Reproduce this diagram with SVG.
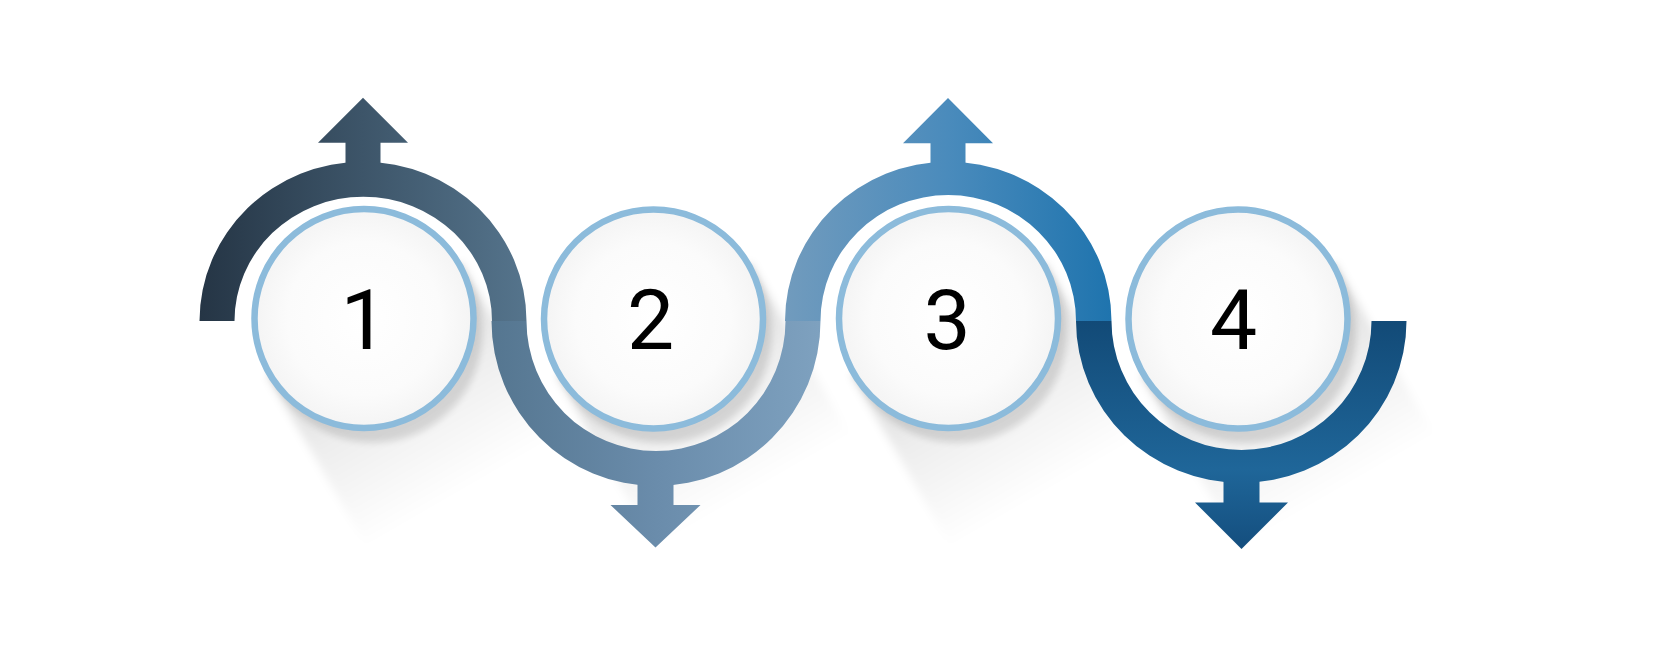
<svg xmlns="http://www.w3.org/2000/svg" width="1680" height="655" viewBox="0 0 1680 655">
  <style>
    .ring { stroke: #8cbbdb; stroke-width: 6.5; fill: url(#discFill); }
    .num { font-family: Roboto, "Liberation Sans", Arial, sans-serif; font-weight: 400; font-size: 84px; fill: #000000; text-anchor: middle; }
    .longshadow { fill: url(#longShadowGrad); filter: url(#soft); }
    .dropshadow { fill: #000; opacity: 0.12; filter: url(#blur5); }
  </style>
  <defs>
    <radialGradient id="discFill" cx="0.5" cy="0.5" r="0.5">
      <stop offset="0" stop-color="#ffffff"/>
      <stop offset="0.7" stop-color="#fbfbfb"/>
      <stop offset="1" stop-color="#f4f4f4"/>
    </radialGradient>
    <linearGradient id="longShadowGrad" gradientUnits="userSpaceOnUse" x1="0" y1="0" x2="100" y2="173">
      <stop offset="0" stop-color="#000" stop-opacity="0.16"/>
      <stop offset="0.45" stop-color="#000" stop-opacity="0.07"/>
      <stop offset="1" stop-color="#000" stop-opacity="0"/>
    </linearGradient>
    <filter id="soft" x="-20%" y="-20%" width="140%" height="140%">
      <feGaussianBlur stdDeviation="4"/>
    </filter>
    <filter id="blur5" x="-30%" y="-30%" width="160%" height="160%">
      <feGaussianBlur stdDeviation="3.5"/>
    </filter>
    <linearGradient id="g1" gradientUnits="userSpaceOnUse" x1="200" y1="0" x2="526" y2="0">
      <stop offset="0" stop-color="#253545"/>
      <stop offset="0.5" stop-color="#3d5569"/>
      <stop offset="1" stop-color="#55748c"/>
    </linearGradient>
    <linearGradient id="g2" gradientUnits="userSpaceOnUse" x1="492" y1="0" x2="820" y2="0">
      <stop offset="0" stop-color="#557690"/>
      <stop offset="0.5" stop-color="#6a8cab"/>
      <stop offset="1" stop-color="#7ea1bf"/>
    </linearGradient>
    <linearGradient id="g3" gradientUnits="userSpaceOnUse" x1="785" y1="0" x2="1111" y2="0">
      <stop offset="0" stop-color="#719bbd"/>
      <stop offset="0.5" stop-color="#4a8bbc"/>
      <stop offset="1" stop-color="#1f74ae"/>
    </linearGradient>
    <linearGradient id="g4" gradientUnits="userSpaceOnUse" x1="0" y1="321" x2="0" y2="549">
      <stop offset="0" stop-color="#124a77"/>
      <stop offset="0.65" stop-color="#1f6699"/>
      <stop offset="1" stop-color="#144e7e"/>
    </linearGradient>
  </defs>

  <rect x="0" y="0" width="1680" height="655" fill="#ffffff"/>

  <g id="shadows">
    <g transform="translate(364,318.5)">
      <polygon class="longshadow" points="97,-56 197,117 3,229 -97,56"/>
      <circle class="dropshadow" cx="9" cy="15" r="109"/>
    </g>
    <g transform="translate(653.5,319)">
      <polygon class="longshadow" points="97,-56 197,117 3,229 -97,56"/>
      <circle class="dropshadow" cx="9" cy="15" r="109"/>
    </g>
    <g transform="translate(948.5,318.5)">
      <polygon class="longshadow" points="97,-56 197,117 3,229 -97,56"/>
      <circle class="dropshadow" cx="9" cy="15" r="109"/>
    </g>
    <g transform="translate(1238,319)">
      <polygon class="longshadow" points="97,-56 197,117 3,229 -97,56"/>
      <circle class="dropshadow" cx="9" cy="15" r="109"/>
    </g>
  </g>

  <g id="connectors">
    <g id="arc-1" fill="url(#g1)">
      <path d="M199.5,321 A163.5,159.3 0 0 1 526.5,321 L492,321 A128.75,124.3 0 0 0 234.5,321 Z"/>
      <polygon points="345.5,175 345.5,142.7 318,142.7 363,97.7 408,142.7 380.5,142.7 380.5,175"/>
    </g>
    <g id="arc-2" fill="url(#g2)">
      <path d="M491.5,321 A164.5,165 0 0 0 820.5,321 L785.5,321 A129.5,130 0 0 1 526.5,321 Z"/>
      <polygon points="637.5,470 637.5,505 610.5,505 655.5,547.5 700.5,505 673.5,505 673.5,470"/>
    </g>
    <g id="arc-3" fill="url(#g3)">
      <path d="M785,321 A163.25,159.3 0 0 1 1111.5,321 L1076,321 A127.75,126 0 0 0 820.5,321 Z"/>
      <polygon points="930.5,175 930.5,143.3 903,143.3 948,98 993,143.3 965.5,143.3 965.5,175"/>
    </g>
    <g id="arc-4" fill="url(#g4)">
      <path d="M1076,321 A165.25,162 0 0 0 1406.5,321 L1371.5,321 A130,129 0 0 1 1111.5,321 Z"/>
      <polygon points="1223.5,468 1223.5,502.5 1195,502.5 1241.5,549 1288,502.5 1259.5,502.5 1259.5,468"/>
    </g>
  </g>

  <g id="step-1">
    <circle class="ring" cx="364" cy="318.5" r="109.5"/>
    <text class="num" x="364" y="349">1</text>
  </g>
  <g id="step-2">
    <circle class="ring" cx="653.5" cy="319" r="109.5"/>
    <text class="num" x="650.5" y="349">2</text>
  </g>
  <g id="step-3">
    <circle class="ring" cx="948.5" cy="318.5" r="109.5"/>
    <text class="num" x="947" y="349">3</text>
  </g>
  <g id="step-4">
    <circle class="ring" cx="1238" cy="319" r="109.5"/>
    <text class="num" x="1233.5" y="349">4</text>
  </g>
</svg>
